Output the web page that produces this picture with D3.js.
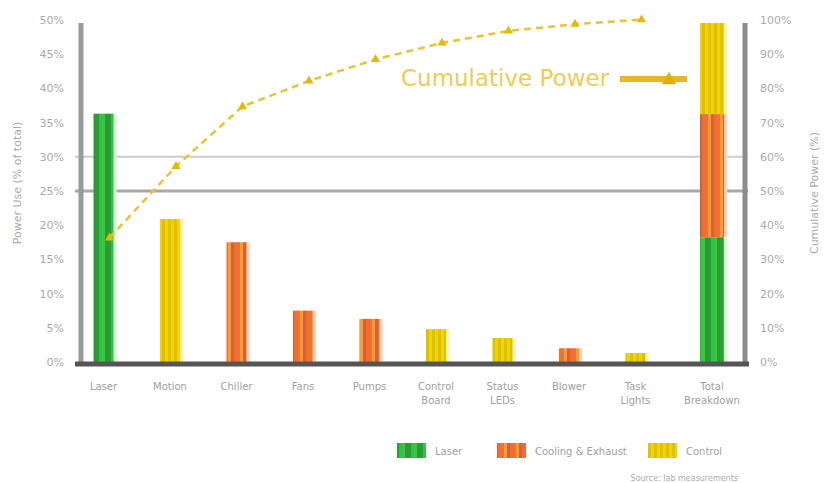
<!DOCTYPE html>
<html>
<head>
<meta charset="utf-8">
<script src="https://cdn.jsdelivr.net/npm/d3@7"></script>
<style>
  html, body { margin: 0; padding: 0; background: #fff; }
  svg { display: block; font-family: "DejaVu Sans", sans-serif; }
</style>
</head>
<body>
<svg id="chart" width="833" height="483"></svg>
<script>
// Power breakdown by component (share of total) with a cumulative Pareto line
const categories = ["Laser", "Motion", "Chiller", "Fans", "Pumps", "Control\nBoard", "Status\nLEDs", "Blower", "Task\nLights", "Total\nBreakdown"];
const groups = ["laser", "aux", "cool", "cool", "cool", "aux", "aux", "cool", "aux"];
const shares = [36.3, 20.9, 17.5, 7.5, 6.3, 4.8, 3.5, 2.0, 1.3];
const totalStack = [36.5, 36.0, 26.6];           // laser, cooling, auxiliary
const leftTicks = [0, 5, 10, 15, 20, 25, 30, 35, 40, 45, 50];
const rightTicks = [0, 10, 20, 30, 40, 50, 60, 70, 80, 90, 100];
const refLines = [25, 30];                        // on the share axis
const legendItems = [
  { key: "laser", label: "Laser" },
  { key: "cool", label: "Cooling & Exhaust" },
  { key: "aux", label: "Control" }
];

const svg = d3.select("#chart");
const margin = { left: 81, right: 88, top: 20, bottom: 121 };
const W = 833, H = 483;
const plotBottom = H - margin.bottom;   // 362
const plotRight = W - margin.right;     // 745

const x = d3.scalePoint().domain(categories).range([103.5, 702]);
const yShare = d3.scaleLinear().domain([0, 50]).range([plotBottom, margin.top]);
const yCum = d3.scaleLinear().domain([0, 100]).range([plotBottom, margin.top]);
const totalShift = 10;
const cx = (c, i) => x(c) + (i === categories.length - 1 ? totalShift : 0);

// striped fills
const defs = svg.append("defs");
const fills = {
  laser: ["#339933", "#2fbf55", "#33cc33", "#2e9a35"],
  cool:  ["#ff9933", "#cc6633", "#ff6633", "#e07a30"],
  aux:   ["#cccc00", "#ffcc00", "#d4c400", "#ffd000"]
};
Object.entries(fills).forEach(([k, cols]) => {
  const p = defs.append("pattern").attr("id", "pat-" + k)
    .attr("patternUnits", "userSpaceOnUse").attr("width", 12).attr("height", 12);
  cols.forEach((c, i) => p.append("rect").attr("x", i * 3).attr("y", 0)
    .attr("width", 3).attr("height", 12).attr("fill", c));
});
const edge = { laser: "#d8f8d0", cool: "#ffd0b8", aux: "#fff2a8" };

// reference lines
svg.append("g").selectAll("line").data(refLines).join("line")
  .attr("x1", 75).attr("x2", plotRight + 3)
  .attr("y1", d => yShare(d)).attr("y2", d => yShare(d))
  .attr("stroke", (d, i) => i === 0 ? "#a8a8a8" : "#cdcdcd")
  .attr("stroke-width", (d, i) => i === 0 ? 3 : 2);

// component bars
const bw = 20;
const bars = svg.append("g");
shares.forEach((v, i) => {
  const c = cx(categories[i], i);
  bars.append("rect").attr("x", c - bw / 2 + 1).attr("y", yShare(v))
    .attr("width", bw + 2).attr("height", plotBottom - yShare(v)).attr("fill", edge[groups[i]]);
  bars.append("rect").attr("x", c - bw / 2).attr("y", yShare(v))
    .attr("width", bw).attr("height", plotBottom - yShare(v))
    .attr("fill", `url(#pat-${groups[i]})`);
});

// stacked total bar on the cumulative axis
const stackKeys = ["laser", "cool", "aux"];
const tcx = cx(categories[categories.length - 1], categories.length - 1);
let acc = 0;
totalStack.forEach((v, i) => {
  const y0 = yCum(acc), y1 = yCum(acc + v);
  bars.append("rect").attr("x", tcx - 12 + 1).attr("y", y1)
    .attr("width", 26).attr("height", y0 - y1).attr("fill", edge[stackKeys[i]]);
  bars.append("rect").attr("x", tcx - 12).attr("y", y1)
    .attr("width", 24).attr("height", y0 - y1).attr("fill", `url(#pat-${stackKeys[i]})`);
  acc += v;
});

// axes lines
svg.append("line").attr("x1", margin.left).attr("x2", margin.left)
  .attr("y1", margin.top + 3).attr("y2", plotBottom).attr("stroke", "#9a9a9a").attr("stroke-width", 5);
svg.append("line").attr("x1", plotRight).attr("x2", plotRight)
  .attr("y1", margin.top + 3).attr("y2", plotBottom).attr("stroke", "#8c8c8c").attr("stroke-width", 5);
svg.append("line").attr("x1", 75).attr("x2", plotRight + 4)
  .attr("y1", plotBottom + 2).attr("y2", plotBottom + 2).attr("stroke", "#555").attr("stroke-width", 5);

// tick labels
const leftAxis = svg.append("g").attr("transform", `translate(${margin.left - 14},0)`)
  .call(d3.axisLeft(yShare).tickValues(leftTicks).tickFormat(d => d + "%").tickSize(0));
const rightAxis = svg.append("g").attr("transform", `translate(${plotRight + 12},0)`)
  .call(d3.axisRight(yCum).tickValues(rightTicks).tickFormat(d => d + "%").tickSize(0));
[leftAxis, rightAxis].forEach(a => {
  a.select(".domain").remove();
  a.selectAll("text").attr("fill", "#aaa").attr("font-size", 11).attr("font-family", "DejaVu Sans, sans-serif");
});

// category labels
const catG = svg.append("g");
categories.forEach((c, i) => {
  const px = cx(c, i);
  const t = catG.append("text").attr("x", px).attr("y", 390)
    .attr("text-anchor", "middle").attr("font-size", 10).attr("fill", "#a0a0a0");
  c.split("\n").forEach((line, j) => t.append("tspan").attr("x", px).attr("dy", j ? 14 : 0).text(line));
});

// axis titles
svg.append("text").attr("transform", `translate(21,183) rotate(-90)`)
  .attr("text-anchor", "middle").attr("font-size", 11).attr("fill", "#aaa")
  .text("Power Use (% of total)");
svg.append("text").attr("transform", `translate(818,193) rotate(-90)`)
  .attr("text-anchor", "middle").attr("font-size", 11).attr("fill", "#aaa")
  .text("Cumulative Power (%)");

// cumulative line
const cum = d3.cumsum(shares);
const cumPts = Array.from(cum, (v, i) => [x(categories[i]) + 6, yCum(v)]);
const gold = "#f2c12e";
svg.append("path").datum(cumPts)
  .attr("d", d3.line())
  .attr("fill", "none").attr("stroke", gold).attr("stroke-width", 2.5)
  .attr("stroke-dasharray", "7,5");
const tri = d3.symbol().type(d3.symbolTriangle).size(36);
svg.append("g").selectAll("path").data(cumPts).join("path")
  .attr("transform", d => `translate(${d[0]},${d[1]})`)
  .attr("d", tri).attr("fill", "#e6b800");

// line annotation
svg.append("text").attr("x", 401).attr("y", 86)
  .attr("font-size", 23).attr("fill", gold).attr("fill-opacity", 0.85)
  .text("Cumulative Power");
svg.append("line").attr("x1", 620).attr("x2", 687).attr("y1", 79).attr("y2", 79)
  .attr("stroke", "#e8b820").attr("stroke-width", 6);
svg.append("path").attr("transform", "translate(669,80)").attr("d", d3.symbol().type(d3.symbolTriangle).size(90)).attr("fill", "#e0b000");

// legend
const lg = svg.append("g");
const lx = [397, 497, 648];
legendItems.forEach((it, i) => {
  lg.append("rect").attr("x", lx[i]).attr("y", 443).attr("width", 29).attr("height", 15)
    .attr("fill", `url(#pat-${it.key})`);
  lg.append("text").attr("x", lx[i] + 38).attr("y", 455).attr("font-size", 10)
    .attr("fill", "#a0a0a0").text(it.label);
});

svg.append("text").attr("x", 738).attr("y", 481).attr("text-anchor", "end")
  .attr("font-size", 8).attr("fill", "#aaa").text("Source: lab measurements");
</script>
</body>
</html>
